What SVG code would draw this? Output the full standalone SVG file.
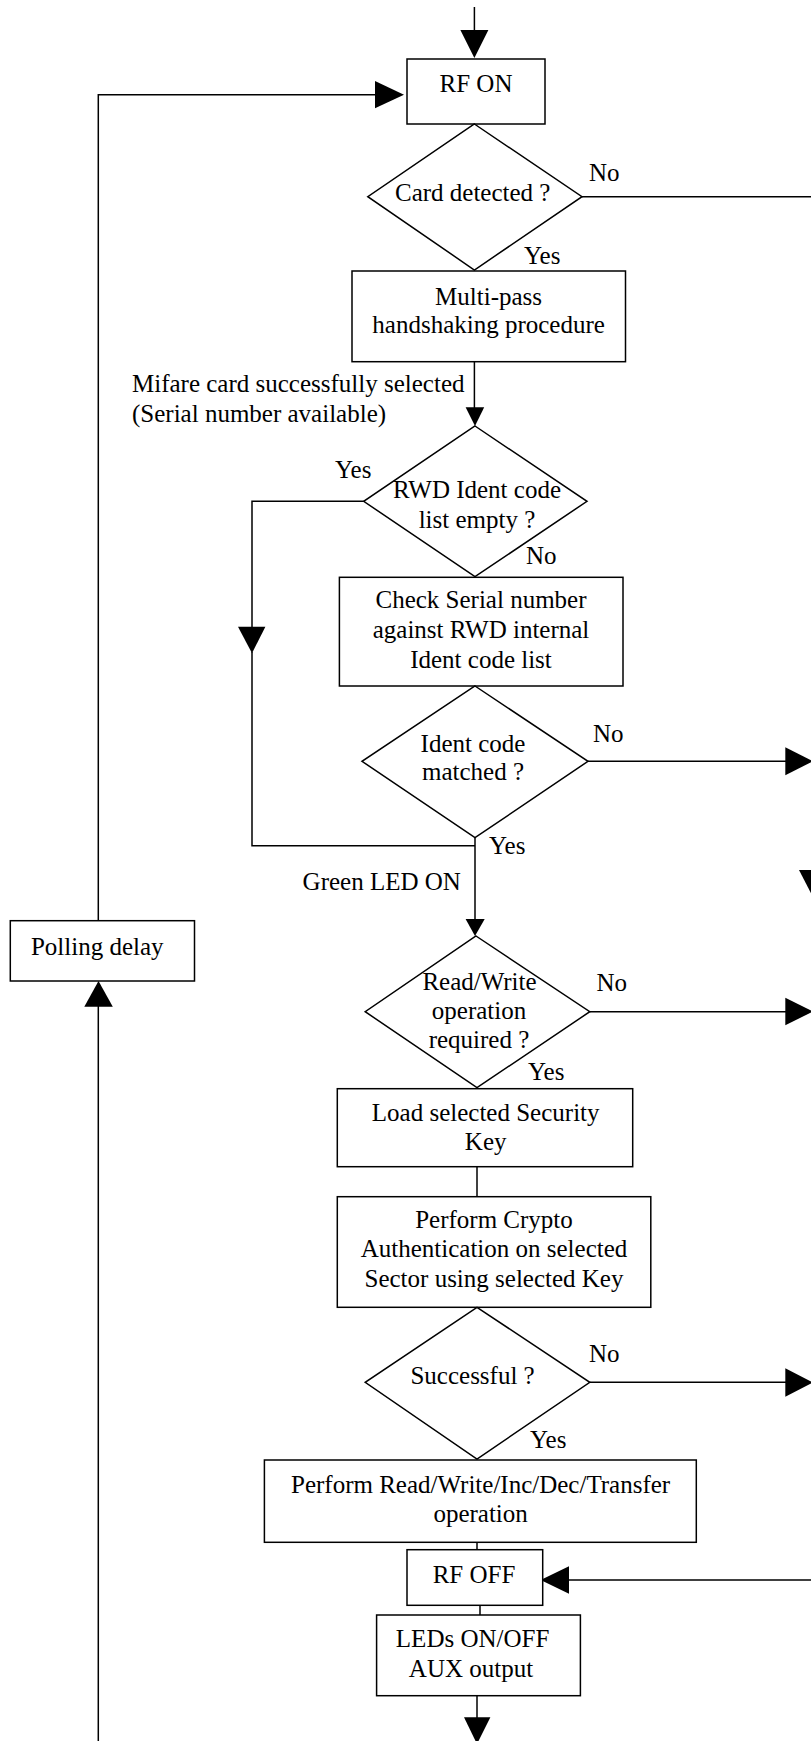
<svg xmlns="http://www.w3.org/2000/svg" width="811" height="1741" viewBox="0 0 811 1741">
<style>
.box{fill:#fff;stroke:#000;stroke-width:1.5}
.ln{fill:none;stroke:#000;stroke-width:1.5}
.ah{fill:#000;stroke:none}
text{font-family:"Liberation Serif","Times New Roman",serif;font-size:25px;fill:#000}
.c{text-anchor:middle}
</style>
<rect width="811" height="1741" fill="#fff"/>
<g id="connectors">
<line class="ln" x1="474.4" y1="7" x2="474.4" y2="31"/>
<polygon class="ah" points="460.4,30 488.4,30 474.4,58"/>
<polyline class="ln" points="98.3,921 98.3,94.7 376,94.7"/>
<polygon class="ah" points="375,81 375,108.3 404,94.7"/>
<line class="ln" x1="98.3" y1="1741" x2="98.3" y2="1005"/>
<polygon class="ah" points="84.3,1006.7 112.8,1006.7 98.5,981"/>
<line class="ln" x1="582" y1="196.7" x2="811" y2="196.7"/>
<line class="ln" x1="474.4" y1="361.7" x2="474.4" y2="408"/>
<polygon class="ah" points="465.6,407.3 484.2,407.3 475,426"/>
<polyline class="ln" points="363.7,501.3 252,501.3 252,628"/>
<polygon class="ah" points="238,626.7 265.4,626.7 252,653.3"/>
<polyline class="ln" points="252,652 252,845.7 475,845.7"/>
<line class="ln" x1="588" y1="761.3" x2="787" y2="761.3"/>
<polygon class="ah" points="785.3,747.3 785.3,775.3 813,761.3"/>
<line class="ln" x1="475" y1="837.7" x2="475" y2="920"/>
<polygon class="ah" points="465.6,919 484.7,919 475,936"/>
<polygon class="ah" points="799,870 827,870 813,897"/>
<line class="ln" x1="589.8" y1="1011.7" x2="787" y2="1011.7"/>
<polygon class="ah" points="785.3,997.7 785.3,1025.3 813,1011.5"/>
<line class="ln" x1="477" y1="1166.7" x2="477" y2="1196.7"/>
<line class="ln" x1="589.8" y1="1382.3" x2="787" y2="1382.3"/>
<polygon class="ah" points="785.3,1368.3 785.3,1396.7 813,1382.5"/>
<line class="ln" x1="477" y1="1542.3" x2="477" y2="1549.7"/>
<line class="ln" x1="811" y1="1580" x2="567" y2="1580"/>
<polygon class="ah" points="569,1566.3 569,1593.7 540.6,1580"/>
<line class="ln" x1="480" y1="1605.3" x2="480" y2="1615"/>
<line class="ln" x1="477" y1="1695.7" x2="477" y2="1719"/>
<polygon class="ah" points="464,1717.3 490.4,1717.3 477,1744"/>
</g>
<g id="labels">
<text x="589" y="181">No</text>
<text x="524" y="264">Yes</text>
<text x="132" y="392">Mifare card successfully selected</text>
<text x="132" y="422">(Serial number available)</text>
<text x="335" y="478">Yes</text>
<text x="526" y="564">No</text>
<text x="593" y="742">No</text>
<text x="489" y="854">Yes</text>
<text x="302.6" y="890">Green LED ON</text>
<text x="596.5" y="991">No</text>
<text x="528" y="1080">Yes</text>
<text x="589" y="1362">No</text>
<text x="530" y="1448">Yes</text>
</g>
<g id="rf_on">
<rect class="box" x="407" y="59" width="138" height="65"/>
<text class="c" x="476" y="92">RF ON</text>
</g>
<g id="card_detected">
<polygon class="box" points="474.4,124 582,196.7 474.4,270 367.8,196.7"/>
<text class="c" x="472.7" y="201">Card detected ?</text>
</g>
<g id="handshaking">
<rect class="box" x="352" y="271" width="273.5" height="90.7"/>
<text class="c" x="488.6" y="305">Multi-pass</text>
<text class="c" x="488.6" y="333">handshaking procedure</text>
</g>
<g id="list_empty">
<polygon class="box" points="475,426 587,501.3 475,576.7 363.7,501.3"/>
<text class="c" x="477" y="498">RWD Ident code</text>
<text class="c" x="477" y="528">list empty ?</text>
</g>
<g id="check_serial">
<rect class="box" x="339.4" y="577.3" width="283.6" height="108.7"/>
<text class="c" x="481" y="608">Check Serial number</text>
<text class="c" x="481" y="638">against RWD internal</text>
<text class="c" x="481" y="668">Ident code list</text>
</g>
<g id="ident_matched">
<polygon class="box" points="475,686 588,761.3 475,837.7 362,761.3"/>
<text class="c" x="473" y="752">Ident code</text>
<text class="c" x="473" y="780">matched ?</text>
</g>
<g id="polling_delay">
<rect class="box" x="10.3" y="920.7" width="184.2" height="60.3"/>
<text class="c" x="97.3" y="955">Polling delay</text>
</g>
<g id="rw_required">
<polygon class="box" points="476,936 589.8,1011.7 477,1087.7 365.2,1011.7"/>
<text class="c" x="479.5" y="990">Read/Write</text>
<text class="c" x="479" y="1019">operation</text>
<text class="c" x="479" y="1048">required ?</text>
</g>
<g id="load_key">
<rect class="box" x="337.3" y="1088.7" width="295.4" height="78"/>
<text class="c" x="485.7" y="1121">Load selected Security</text>
<text class="c" x="485.7" y="1150">Key</text>
</g>
<g id="crypto_auth">
<rect class="box" x="337.3" y="1196.7" width="313.5" height="110.6"/>
<text class="c" x="494" y="1228">Perform Crypto</text>
<text class="c" x="494" y="1257">Authentication on selected</text>
<text class="c" x="494" y="1287">Sector using selected Key</text>
</g>
<g id="successful">
<polygon class="box" points="477,1307.3 589.8,1382.3 477,1459 365.2,1382.3"/>
<text class="c" x="472.6" y="1384">Successful ?</text>
</g>
<g id="perform_op">
<rect class="box" x="264.4" y="1460" width="431.9" height="82.3"/>
<text class="c" x="480.6" y="1493">Perform Read/Write/Inc/Dec/Transfer</text>
<text class="c" x="480.6" y="1522">operation</text>
</g>
<g id="rf_off">
<rect class="box" x="407" y="1549.7" width="135.7" height="55.6"/>
<text class="c" x="474" y="1583">RF OFF</text>
</g>
<g id="leds">
<rect class="box" x="376.6" y="1615" width="203.8" height="80.7"/>
<text class="c" x="472.6" y="1647">LEDs ON/OFF</text>
<text class="c" x="471" y="1677">AUX output</text>
</g>
</svg>
